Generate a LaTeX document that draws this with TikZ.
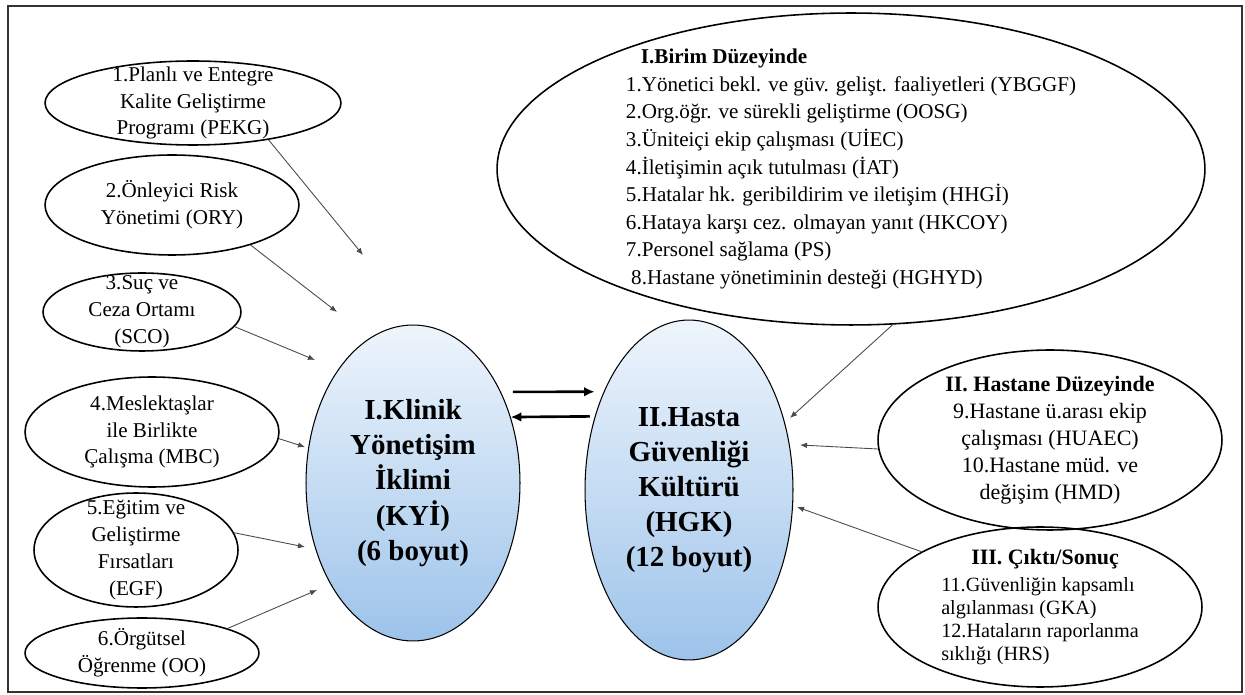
\documentclass[tikz,border=0pt]{standalone}
\usepackage{fontspec}
\setmainfont{Liberation Serif}
\usepackage{xcolor}
\usetikzlibrary{positioning,arrows.meta,shapes.geometric}
\definecolor{ciTop}{HTML}{EEF5FC}
\definecolor{ciBot}{HTML}{9DC3EA}
\definecolor{lineGray}{HTML}{4A4A4A}
\definecolor{frameGray}{HTML}{333333}

\begin{document}
\begin{tikzpicture}[x=0.02cm, y=-0.02cm,
  ell/.style={draw, ellipse, line width=0.9pt, inner sep=-2cm, align=center, font=\fontsize{12}{15.3}\selectfont},
  core/.style={draw, ellipse, line width=0.6pt, top color=ciTop, bottom color=ciBot, inner sep=-2cm, align=center, font=\fontsize{16.5}{20}\selectfont\bfseries},
  feed/.style={draw=lineGray, line width=0.5pt, -{Latex[length=4pt,width=3.2pt]}},
  link/.style={line width=1.5pt, -{Latex[length=6pt,width=5.5pt]}}]
\useasboundingbox (0,0) rectangle (1245,695);
\draw[line width=1.1pt, frameGray] (8,6) rectangle (1242,692);

% climate dimensions
\node[ell, minimum width=5.92cm, minimum height=1.68cm] (pekg) at (193,103) {1.Planlı ve Entegre\\Kalite Geliştirme\\Programı (PEKG)};
\node[ell, minimum width=5.08cm, minimum height=2cm] (ory) at (172,205) {2.Önleyici Risk\\Yönetimi (ORY)};
\node[ell, minimum width=3.96cm, minimum height=1.56cm] (sco) at (142,312) {3.Suç ve\\Ceza Ortamı\\(SCO)};
\node[ell, minimum width=5.08cm, minimum height=2.2cm] (mbc) at (152,432) {4.Meslektaşlar\\ile Birlikte\\Çalışma (MBC)};
\node[ell, minimum width=4.08cm, minimum height=2.28cm] (egf) at (136,550) {5.Eğitim ve\\Geliştirme\\Fırsatları\\(EGF)};
\node[ell, minimum width=4.68cm, minimum height=1.4cm] (oo) at (142,653) {6.Örgütsel\\Öğrenme (OO)};

% the two main constructs
\node[core, minimum width=4.28cm, minimum height=6.32cm] (kyi) at (413,483) {I.Klinik\\Yönetişim\\İklimi\\(KYİ)\\(6 boyut)};
\node[core, minimum width=4.16cm, minimum height=6.8cm] (hgk) at (689,490) {II.Hasta\\Güvenliği\\Kültürü\\(HGK)\\(12 boyut)};

% safety culture dimensions
\node[ell, align=left, minimum width=14.16cm, minimum height=6.24cm, font=\fontsize{12}{15.7}\selectfont] (birim) at (851,169) {\hspace*{0.3cm}\textbf{I.Birim Düzeyinde}\\1.Yönetici bekl. ve güv. gelişt. faaliyetleri (YBGGF)\\2.Org.öğr. ve sürekli geliştirme (OOSG)\\3.Üniteiçi ekip çalışması (UİEC)\\4.İletişimin açık tutulması (İAT)\\5.Hatalar hk. geribildirim ve iletişim (HHGİ)\\6.Hataya karşı cez. olmayan yanıt (HKCOY)\\7.Personel sağlama (PS)\\\hspace*{3pt}8.Hastane yönetiminin desteği (HGHYD)};
\node[ell, minimum width=6.88cm, minimum height=3.6cm, font=\fontsize{12.5}{15.3}\selectfont] (hast) at (1050,440) {\textbf{II. Hastane Düzeyinde}\\9.Hastane ü.arası ekip\\çalışması (HUAEC)\\10.Hastane müd. ve\\değişim (HMD)};
\node[ell, align=left, minimum width=6.48cm, minimum height=3.2cm, font=\fontsize{11.5}{13}\selectfont] (cikti) at (1040,607) {\hspace*{0.6cm}{\fontsize{12.5}{15}\selectfont\bfseries III. Çıktı/Sonuç}\\[2.5pt]11.Güvenliğin kapsamlı\\algılanması (GKA)\\12.Hataların raporlanma\\sıklığı (HRS)};

% arrow ends
\coordinate (a1) at (363,255);
\coordinate (a2) at (337,312);
\coordinate (a3) at (315,360);
\coordinate (a4) at (305,447);
\coordinate (a5) at (305,547);
\coordinate (a6) at (317,590);
\coordinate (b1) at (790,418);
\coordinate (b2) at (800,445);
\coordinate (b3) at (797,507);

\draw[feed] (pekg.-26) -- (a1);
\draw[feed] (ory.-27) -- (a2);
\draw[feed] (sco.-9) -- (a3);
\draw[feed] (mbc.-3) -- (a4);
\draw[feed] (egf.10) -- (a5);
\draw[feed] (oo.16) -- (a6);
\draw[feed] (birim.-75) -- (b1);
\draw[feed] (hast.183) -- (b2);
\draw[feed] (cikti.155) -- (b3);

\draw[link, shorten <=0.24cm, shorten >=0.18cm] (kyi.46) -- (hgk.131);
\draw[link, shorten <=0.1cm] (hgk.142) -- (kyi.34);
\end{tikzpicture}
\end{document}
